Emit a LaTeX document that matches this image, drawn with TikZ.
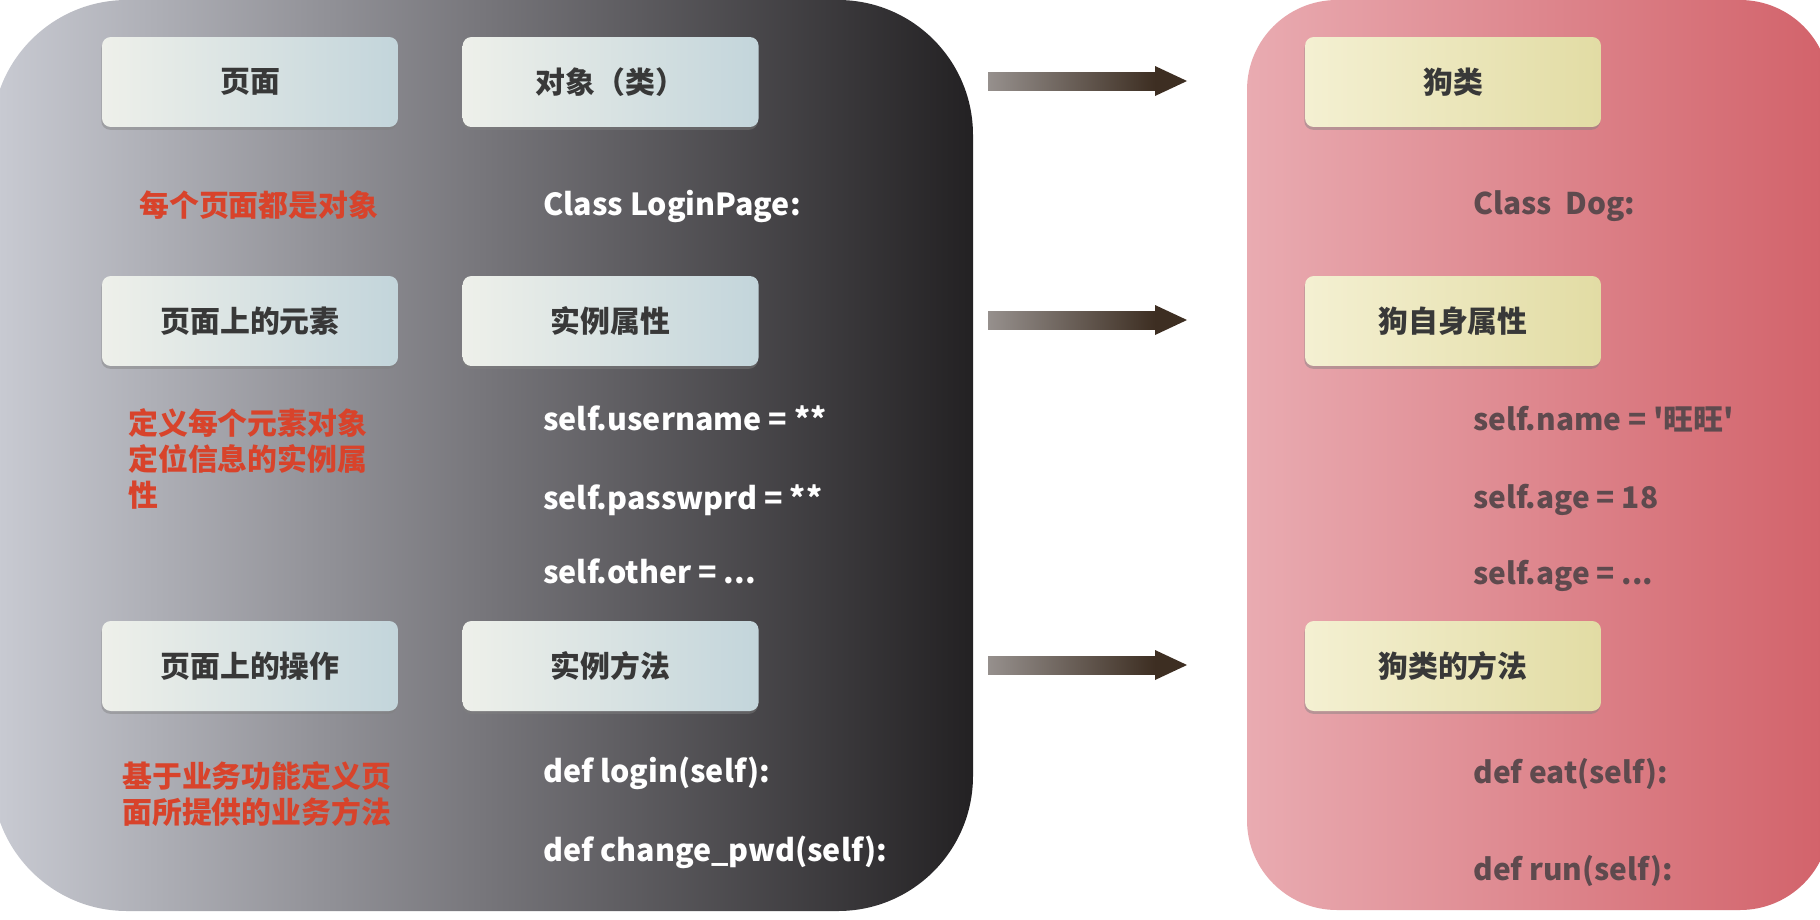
\documentclass[tikz,border=0pt]{standalone}
\usepackage{fontspec}
\newfontfamily\cjk{Noto Sans CJK SC}
\usetikzlibrary{positioning,shadows}
\definecolor{panelL}{HTML}{C9CBD3}
\definecolor{panelM}{HTML}{77767B}
\definecolor{panelR}{HTML}{232123}
\definecolor{dogL}{HTML}{E9ABB1}
\definecolor{dogR}{HTML}{D2626A}
\definecolor{boxL}{HTML}{EEF0EA}
\definecolor{boxR}{HTML}{C3D5DB}
\definecolor{yboxL}{HTML}{F4F0D2}
\definecolor{yboxR}{HTML}{E2DCA4}
\definecolor{noteRed}{HTML}{D8432B}
\definecolor{dogText}{HTML}{5E4A4E}
\definecolor{arrowL}{HTML}{96908D}
\definecolor{arrowR}{HTML}{3D2E22}
\tikzstyle{pagebox}=[rectangle,rounded corners=5pt,minimum width=5.92cm,minimum height=1.8cm,
  left color=boxL,right color=boxR,drop shadow={shadow xshift=-0.4pt,shadow yshift=-1.6pt,opacity=0.45},
  text=black!78,font=\cjk\bfseries\fontsize{17}{20}\selectfont]
\tikzstyle{dogbox}=[pagebox,left color=yboxL,right color=yboxR]
\tikzstyle{note}=[text=noteRed,align=left,inner sep=0pt,font=\cjk\bfseries\fontsize{17}{20.5}\selectfont]
\tikzstyle{code}=[text=white,anchor=base west,inner sep=0pt,font=\cjk\bfseries\fontsize{17.3}{20}\selectfont]
\tikzstyle{dogcode}=[code,text=dogText,font=\cjk\bfseries\fontsize{17}{20}\selectfont]

\begin{document}
\begin{tikzpicture}[x=0.02cm,y=-0.02cm]
  \useasboundingbox (0,0) rectangle (1820,920);
  \fill[white] (0,0) rectangle (1820,920);

  % two panels
  \shade[left color=panelL,right color=panelR,middle color=panelM,rounded corners=2.7cm] (-8,0) rectangle (973,911);
  \shade[left color=dogL,right color=dogR,rounded corners=1.8cm] (1247,0) rectangle (1830,910);

  % page object model
  \node[pagebox] (pg) at (250,82) {页面};
  \node[pagebox,right=1.28cm of pg] (obj) {对象（类）};
  \node[pagebox] (elem) at (250,321) {页面上的元素};
  \node[pagebox,right=1.28cm of elem] (attr) {实例属性};
  \node[pagebox] (op) at (250,666) {页面上的操作};
  \node[pagebox,right=1.28cm of op] (meth) {实例方法};

  \node[note,anchor=west] (n1) at (139,205) {每个页面都是对象};
  \node[note,anchor=north west] (n2) at (128,408) {定义每个元素对象\\定位信息的实例属\\性};
  \node[note,anchor=north west] (n3) at (122,761) {基于业务功能定义页\\面所提供的业务方法};

  \node[code] (c1) at (543,215) {Class LoginPage:};
  \node[code] (c2) at (543,430) {self.username = **};
  \node[code] (c3) at (543,509) {self.passwprd = **};
  \node[code] (c4) at (543,583) {self.other = ...};
  \node[code] (c5) at (543,782) {def login(self):};
  \node[code] (c6) at (543,861) {def change\_pwd(self):};

  % dog class
  \node[dogbox] (dog) at (1453,82) {狗类};
  \node[dogbox] (dogattr) at (1453,321) {狗自身属性};
  \node[dogbox] (dogmeth) at (1453,666) {狗类的方法};

  \node[dogcode] (d1) at (1473,214) {Class\ \ Dog:};
  \node[dogcode] (d2) at (1473,430) {self.name = \textquotesingle 旺旺\textquotesingle};
  \node[dogcode] (d3) at (1473,508) {self.age = 18};
  \node[dogcode] (d4) at (1473,584) {self.age = ...};
  \node[dogcode] (d5) at (1473,783) {def eat(self):};
  \node[dogcode] (d6) at (1473,880) {def run(self):};

  % arrows
  \foreach \i/\y in {1/81,2/320,3/665} {
    \coordinate (a\i) at (988,\y);
    \coordinate (b\i) at (1187,\y);
    \shade[left color=arrowL,right color=arrowR] ([yshift=0.18cm]a\i) rectangle ([xshift=-0.64cm,yshift=-0.18cm]b\i);
    \fill[arrowR] (b\i) -- ++(-32,-15) -- ++(0,30) -- cycle;
  }
\end{tikzpicture}
\end{document}
